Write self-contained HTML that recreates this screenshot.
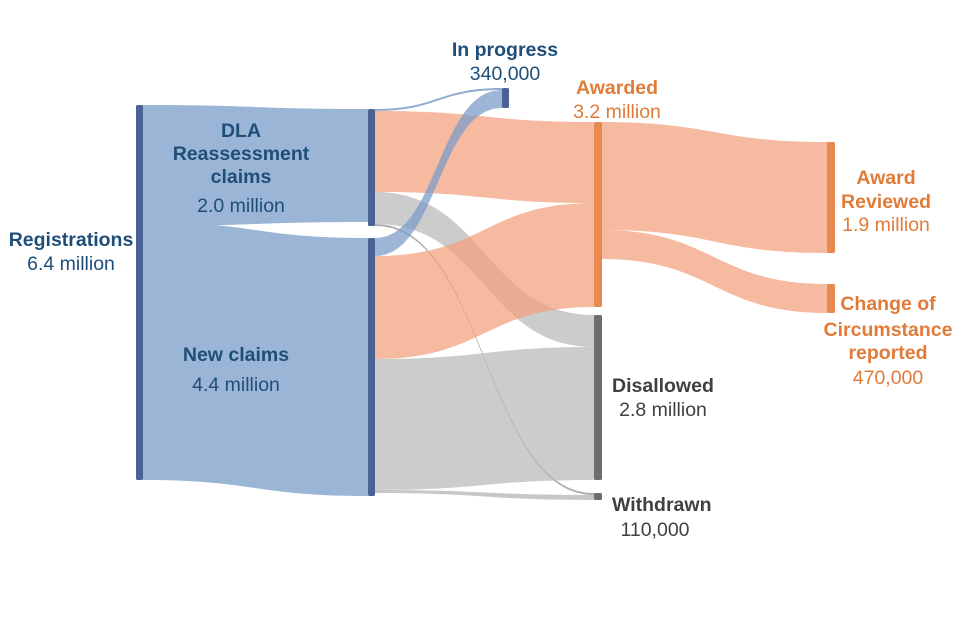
<!DOCTYPE html>
<html><head><meta charset="utf-8"><style>
html,body{margin:0;padding:0;background:#fff;}
svg{display:block;font-family:"Liberation Sans",Arial,sans-serif;}
.b{font-weight:bold;}
</style></head><body>
<svg width="960" height="640" viewBox="0 0 960 640">
<g>
<path d="M143 105 C255 105 255 109 368 109 L368 222 C255 222 255 226 143 226 Z" fill="#9ab5d5"/>
<path d="M143 222 C255 222 255 238 368 238 L368 496 C255 496 255 480 143 480 Z" fill="#9ab5d5"/>
<path d="M375 109 C438 109 438 88 502 88 L502 90 C438 90 438 111 375 111 Z" fill="#7c9cc8" opacity="0.85"/>
<path d="M375 111 C485 111 485 122 594 122 L594 203 C485 203 485 192 375 192 Z" fill="#f2a07b" opacity="0.72"/>
<path d="M375 192 C485 192 485 315 594 315 L594 347 C485 347 485 224 375 224 Z" fill="#b9b9b9" opacity="0.72"/>
<path d="M375 224 C485 224 485 493 594 493 L594 495 C485 495 485 226 375 226 Z" fill="#9a9a9a" opacity="0.8"/>
<path d="M375 256 C485 256 485 203 594 203 L594 307 C485 307 485 359 375 359 Z" fill="#f2a07b" opacity="0.72"/>
<path d="M375 359 C485 359 485 347 594 347 L594 480 C485 480 485 490 375 490 Z" fill="#b9b9b9" opacity="0.72"/>
<path d="M375 490 C485 490 485 495 594 495 L594 500 C485 500 485 493 375 493 Z" fill="#b9b9b9" opacity="0.8"/>
<path d="M375 238 C438 238 438 90 502 90 L502 108 C438 108 438 256 375 256 Z" fill="#7c9cc8" opacity="0.75"/>
<path d="M601 122 C714 122 714 142 827 142 L827 253 C714 253 714 230 601 230 Z" fill="#f2a07b" opacity="0.72"/>
<path d="M601 230 C714 230 714 284 827 284 L827 313 C714 313 714 259 601 259 Z" fill="#f2a07b" opacity="0.72"/>
<rect x="136" y="105" width="7" height="375" rx="1.5" fill="#4a6394"/>
<rect x="368" y="109" width="7" height="117" rx="1.5" fill="#4a6394"/>
<rect x="368" y="238" width="7" height="258" rx="1.5" fill="#4a6394"/>
<rect x="502" y="88" width="7" height="20" rx="1.5" fill="#4a6394"/>
<rect x="594" y="122" width="8" height="185" rx="1.5" fill="#e8894f"/>
<rect x="594" y="315" width="8" height="165" rx="1.5" fill="#6d6e71"/>
<rect x="594" y="493" width="8" height="7" rx="1.5" fill="#6d6e71"/>
<rect x="827" y="142" width="8" height="111" rx="1.5" fill="#e8894f"/>
<rect x="827" y="284" width="8" height="29" rx="1.5" fill="#e8894f"/>
</g>
<g font-size="19.5" text-anchor="middle">
<g fill="#1f4e79">
<text x="71" y="246" class="b">Registrations</text>
<text x="71" y="270">6.4 million</text>
<text x="241" y="137" class="b">DLA</text>
<text x="241" y="160" class="b">Reassessment</text>
<text x="241" y="183" class="b">claims</text>
<text x="241" y="212">2.0 million</text>
<text x="236" y="361" class="b">New claims</text>
<text x="236" y="391">4.4 million</text>
<text x="505" y="56" class="b">In progress</text>
<text x="505" y="80">340,000</text>
</g>
<g fill="#e07b39">
<text x="617" y="94" class="b">Awarded</text>
<text x="617" y="118">3.2 million</text>
<text x="886" y="184" class="b">Award</text>
<text x="886" y="208" class="b">Reviewed</text>
<text x="886" y="231">1.9 million</text>
<text x="888" y="310" class="b">Change of</text>
<text x="888" y="336" class="b">Circumstance</text>
<text x="888" y="359" class="b">reported</text>
<text x="888" y="384">470,000</text>
</g>
<g fill="#404040">
<text x="612" y="392" text-anchor="start" class="b">Disallowed</text>
<text x="663" y="416">2.8 million</text>
<text x="612" y="511" text-anchor="start" class="b">Withdrawn</text>
<text x="655" y="536">110,000</text>
</g>
</g>
</svg>
</body></html>
